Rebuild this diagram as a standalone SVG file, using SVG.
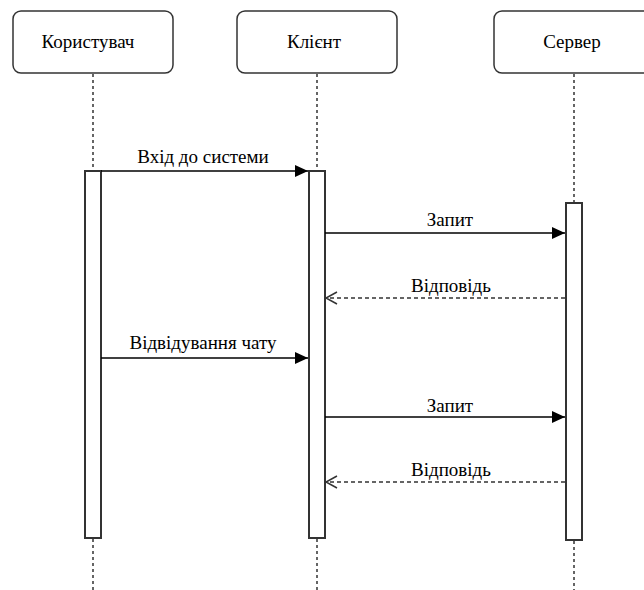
<svg xmlns="http://www.w3.org/2000/svg" width="644" height="590" viewBox="0 0 644 590">
  <style>
    .box { fill: #fff; stroke: #333; stroke-width: 1.5; }
    .life { stroke: #333; stroke-width: 1.5; stroke-dasharray: 3 3; fill: none; }
    .bar { fill: #fff; stroke: #333; stroke-width: 2; }
    .msg { stroke: #000; stroke-width: 1.5; fill: none; }
    .ret { stroke: #333; stroke-width: 1.5; stroke-dasharray: 4 3; fill: none; }
    .lbl { font-size: 19px; fill: #000; text-anchor: middle; }
  </style>
  <defs>
    <marker id="filled" markerWidth="14" markerHeight="12" refX="13" refY="6" orient="auto" markerUnits="userSpaceOnUse">
      <path d="M0,0 L13,6 L0,12 z" fill="#000"/>
    </marker>
    <marker id="open" markerWidth="14" markerHeight="14" refX="12" refY="7" orient="auto" markerUnits="userSpaceOnUse">
      <path d="M1,1 L12,7 L1,13" fill="none" stroke="#333" stroke-width="1.5"/>
    </marker>
  </defs>
  <rect width="644" height="590" fill="#fff"/>

  <!-- lifelines -->
  <g id="lifelines">
    <line class="life" x1="93" y1="74" x2="93" y2="170"/>
    <line class="life" x1="93" y1="539" x2="93" y2="590"/>
    <line class="life" x1="317" y1="74" x2="317" y2="170"/>
    <line class="life" x1="317" y1="539" x2="317" y2="590"/>
    <line class="life" x1="574" y1="74" x2="574" y2="202"/>
    <line class="life" x1="574" y1="541" x2="574" y2="590"/>
  </g>

  <g id="user">
    <rect class="box" x="13" y="11" width="160" height="62" rx="8"/>
    <text class="lbl" font-family="'Liberation Serif', 'DejaVu Serif', serif" x="88" y="48">Користувач</text>
    <rect class="bar" x="85" y="171" width="16" height="367"/>
  </g>
  <g id="client">
    <rect class="box" x="237" y="11" width="160" height="62" rx="8"/>
    <text class="lbl" font-family="'Liberation Serif', 'DejaVu Serif', serif" x="314" y="48">Клієнт</text>
    <rect class="bar" x="309" y="171" width="16" height="367"/>
  </g>
  <g id="server">
    <rect class="box" x="494" y="11" width="160" height="62" rx="8"/>
    <text class="lbl" font-family="'Liberation Serif', 'DejaVu Serif', serif" x="572" y="48">Сервер</text>
    <rect class="bar" x="566" y="203" width="16" height="337"/>
  </g>

  <!-- messages -->
  <g id="connectors" font-family="'Liberation Serif', 'DejaVu Serif', serif">
    <line class="msg" x1="101" y1="171" x2="308" y2="171" marker-end="url(#filled)"/>
    <text class="lbl" x="203" y="163">Вхід до системи</text>

    <line class="msg" x1="325" y1="233" x2="565" y2="233" marker-end="url(#filled)"/>
    <text class="lbl" x="450" y="226">Запит</text>

    <line class="ret" x1="565" y1="298" x2="326" y2="298" marker-end="url(#open)"/>
    <text class="lbl" x="451" y="292">Відповідь</text>

    <line class="msg" x1="101" y1="358" x2="308" y2="358" marker-end="url(#filled)"/>
    <text class="lbl" x="203" y="349">Відвідування чату</text>

    <line class="msg" x1="325" y1="417" x2="565" y2="417" marker-end="url(#filled)"/>
    <text class="lbl" x="450" y="412">Запит</text>

    <line class="ret" x1="565" y1="482" x2="326" y2="482" marker-end="url(#open)"/>
    <text class="lbl" x="451" y="476">Відповідь</text>
  </g>
</svg>
